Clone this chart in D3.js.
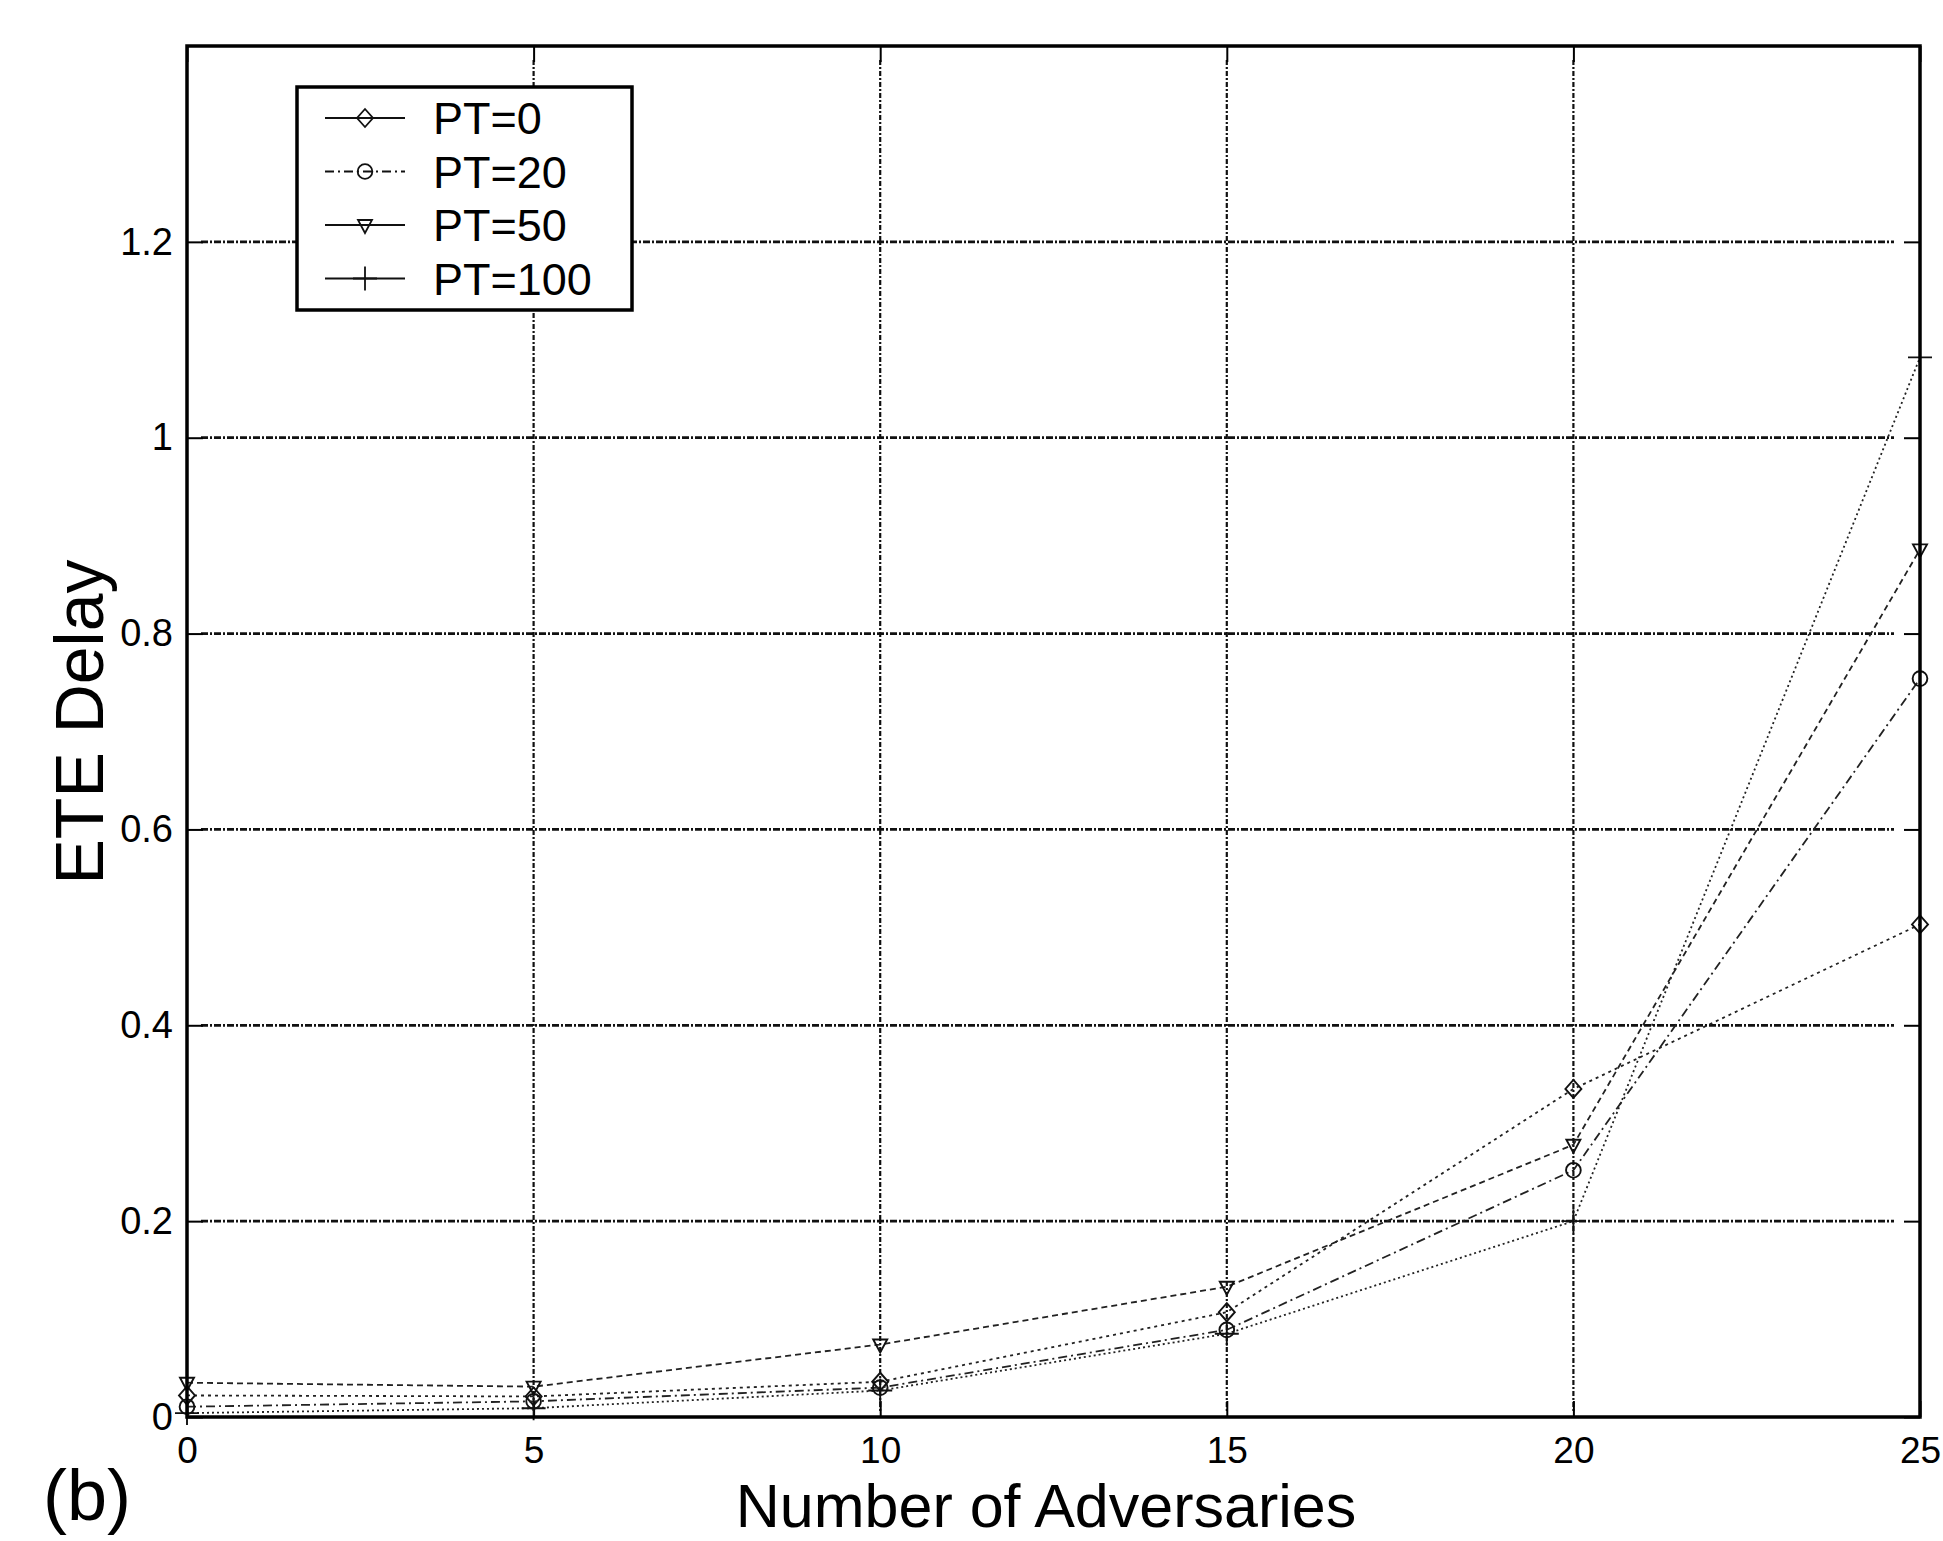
<!DOCTYPE html>
<html>
<head>
<meta charset="utf-8">
<script src="https://cdn.jsdelivr.net/npm/d3@7"></script>
<style>
  html, body { margin: 0; padding: 0; background: #fff; }
  svg { display: block; }
  text { font-family: "Liberation Sans", Arial, Helvetica, sans-serif; fill: #000; }
</style>
</head>
<body>
<svg id="chart" width="1943" height="1541"></svg>
<script>
// Number of adversaries on the x axis
const adversaries = [0, 5, 10, 15, 20, 25];

// End-to-end delay for each pause time setting
const delayPT0   = [0.022, 0.021, 0.036, 0.107, 0.335, 0.503];
const delayPT20  = [0.0105, 0.016, 0.030, 0.089, 0.252, 0.754];
const delayPT50  = [0.035, 0.031, 0.074, 0.133, 0.278, 0.886];
const delayPT100 = [0.004, 0.009, 0.027, 0.085, 0.200, 1.082];

const seriesNames = ["PT=0", "PT=20", "PT=50", "PT=100"];
const seriesValues = [delayPT0, delayPT20, delayPT50, delayPT100];

const xTicks = [0, 5, 10, 15, 20, 25];
const yTicks = [0, 0.2, 0.4, 0.6, 0.8, 1, 1.2];
const yTickLabels = ["0", "0.2", "0.4", "0.6", "0.8", "1", "1.2"];

// Plot frame
const frame = { left: 187, right: 1920, top: 46, bottom: 1417 };

const x = d3.scaleLinear().domain([0, 25]).range([frame.left, frame.right]);
const y = d3.scaleLinear().domain([0, 1.4]).range([frame.bottom, frame.top]);

const svg = d3.select("#chart");
svg.append("rect").attr("width", 1943).attr("height", 1541).attr("fill", "#fff");

// Grid
const grid = svg.append("g").attr("class", "grid");
grid.selectAll("line.h").data(yTicks.filter(v => v > 0)).join("line")
  .attr("class", "h")
  .attr("x1", x(0) + 14).attr("x2", x(25) - 26)
  .attr("y1", d => y(d)).attr("y2", d => y(d))
  .attr("stroke", "#111").attr("stroke-width", 2.8)
  .attr("stroke-dasharray", "7,2,2,2");
grid.selectAll("line.v").data(xTicks.filter(v => v > 0 && v < 25)).join("line")
  .attr("class", "v")
  .attr("y1", y(1.4) + 14).attr("y2", y(0) - 6)
  .attr("x1", d => x(d)).attr("x2", d => x(d))
  .attr("stroke", "#111").attr("stroke-width", 2.2)
  .attr("stroke-dasharray", "5,2,2,2");

// Axes with inward ticks
const tickLen = 16;
const xAxis = svg.append("g")
  .attr("transform", `translate(0,${frame.bottom})`)
  .call(d3.axisBottom(x).tickValues(xTicks).tickFormat(d3.format("d"))
    .tickSizeInner(-tickLen).tickSizeOuter(0).tickPadding(20));
const yAxis = svg.append("g")
  .attr("transform", `translate(${frame.left},0)`)
  .call(d3.axisLeft(y).tickValues(yTicks).tickFormat((d, i) => yTickLabels[i])
    .tickSizeInner(-tickLen).tickSizeOuter(0).tickPadding(14));
const xTop = svg.append("g")
  .attr("transform", `translate(0,${frame.top})`)
  .call(d3.axisTop(x).tickValues(xTicks).tickFormat("")
    .tickSizeInner(-tickLen).tickSizeOuter(0));
const yRight = svg.append("g")
  .attr("transform", `translate(${frame.right},0)`)
  .call(d3.axisRight(y).tickValues(yTicks).tickFormat("")
    .tickSizeInner(-tickLen).tickSizeOuter(0));

[xAxis, yAxis, xTop, yRight].forEach(g => {
  g.select(".domain").remove();
  g.selectAll(".tick line").attr("stroke", "#000").attr("stroke-width", 2);
});
xAxis.selectAll(".tick text").attr("font-size", 37).attr("fill", "#000");
yAxis.selectAll(".tick text").attr("font-size", 38).attr("fill", "#000");

// Series styles
const styles = [
  { dash: "3,4",       marker: "diamond" },
  { dash: "9,4,2,4",   marker: "circle" },
  { dash: "6,4",       marker: "tridown" },
  { dash: "2,3",       marker: "plus" }
];

function markerPath(kind) {
  switch (kind) {
    case "diamond": return "M0,-9L8,0L0,9L-8,0Z";
    case "circle":  return d3.symbol().type(d3.symbolCircle).size(170)();
    case "tridown": return "M-7,-5L7,-5L0,8Z";
    case "plus":    return "M-12,0H12M0,-12V12";
  }
}

const line = d3.line().x((d, i) => x(adversaries[i])).y(d => y(d));

const plot = svg.append("g").attr("class", "series");
seriesValues.forEach((vals, s) => {
  const g = plot.append("g");
  g.append("path")
    .datum(vals)
    .attr("d", line)
    .attr("fill", "none")
    .attr("stroke", "#222")
    .attr("stroke-width", 1.8)
    .attr("stroke-dasharray", styles[s].dash);
  g.selectAll("path.mk").data(vals).join("path")
    .attr("class", "mk")
    .attr("d", markerPath(styles[s].marker))
    .attr("transform", (d, i) => `translate(${x(adversaries[i])},${y(d)})`)
    .attr("fill", "none")
    .attr("stroke", "#111")
    .attr("stroke-width", 1.9);
});

// Axes frame
svg.append("rect")
  .attr("x", frame.left).attr("y", frame.top)
  .attr("width", frame.right - frame.left).attr("height", frame.bottom - frame.top)
  .attr("fill", "none").attr("stroke", "#000").attr("stroke-width", 3.5);

// Legend
const legend = svg.append("g").attr("transform", "translate(297,87)");
legend.append("rect")
  .attr("width", 335).attr("height", 223)
  .attr("fill", "#fff").attr("stroke", "#000").attr("stroke-width", 3.5);
seriesNames.forEach((name, s) => {
  const ry = 31 + s * 53.5;
  legend.append("line")
    .attr("x1", 28).attr("x2", 108).attr("y1", ry).attr("y2", ry)
    .attr("stroke", "#111").attr("stroke-width", 1.8)
    .attr("stroke-dasharray", s === 1 ? "9,4,2,4" : null);
  legend.append("path")
    .attr("d", markerPath(styles[s].marker))
    .attr("transform", `translate(68,${ry})`)
    .attr("fill", "none").attr("stroke", "#111").attr("stroke-width", 1.8);
  legend.append("text")
    .attr("x", 136).attr("y", ry + 16)
    .attr("font-size", 45)
    .text(name);
});

// Axis titles
svg.append("text")
  .attr("x", 1046).attr("y", 1527)
  .attr("text-anchor", "middle")
  .attr("font-size", 61)
  .text("Number of Adversaries");
svg.append("text")
  .attr("transform", "translate(103,722) rotate(-90)")
  .attr("text-anchor", "middle")
  .attr("font-size", 68)
  .text("ETE Delay");

// Panel label
svg.append("text")
  .attr("x", 43).attr("y", 1520)
  .attr("font-size", 72)
  .text("(b)");
</script>
</body>
</html>
